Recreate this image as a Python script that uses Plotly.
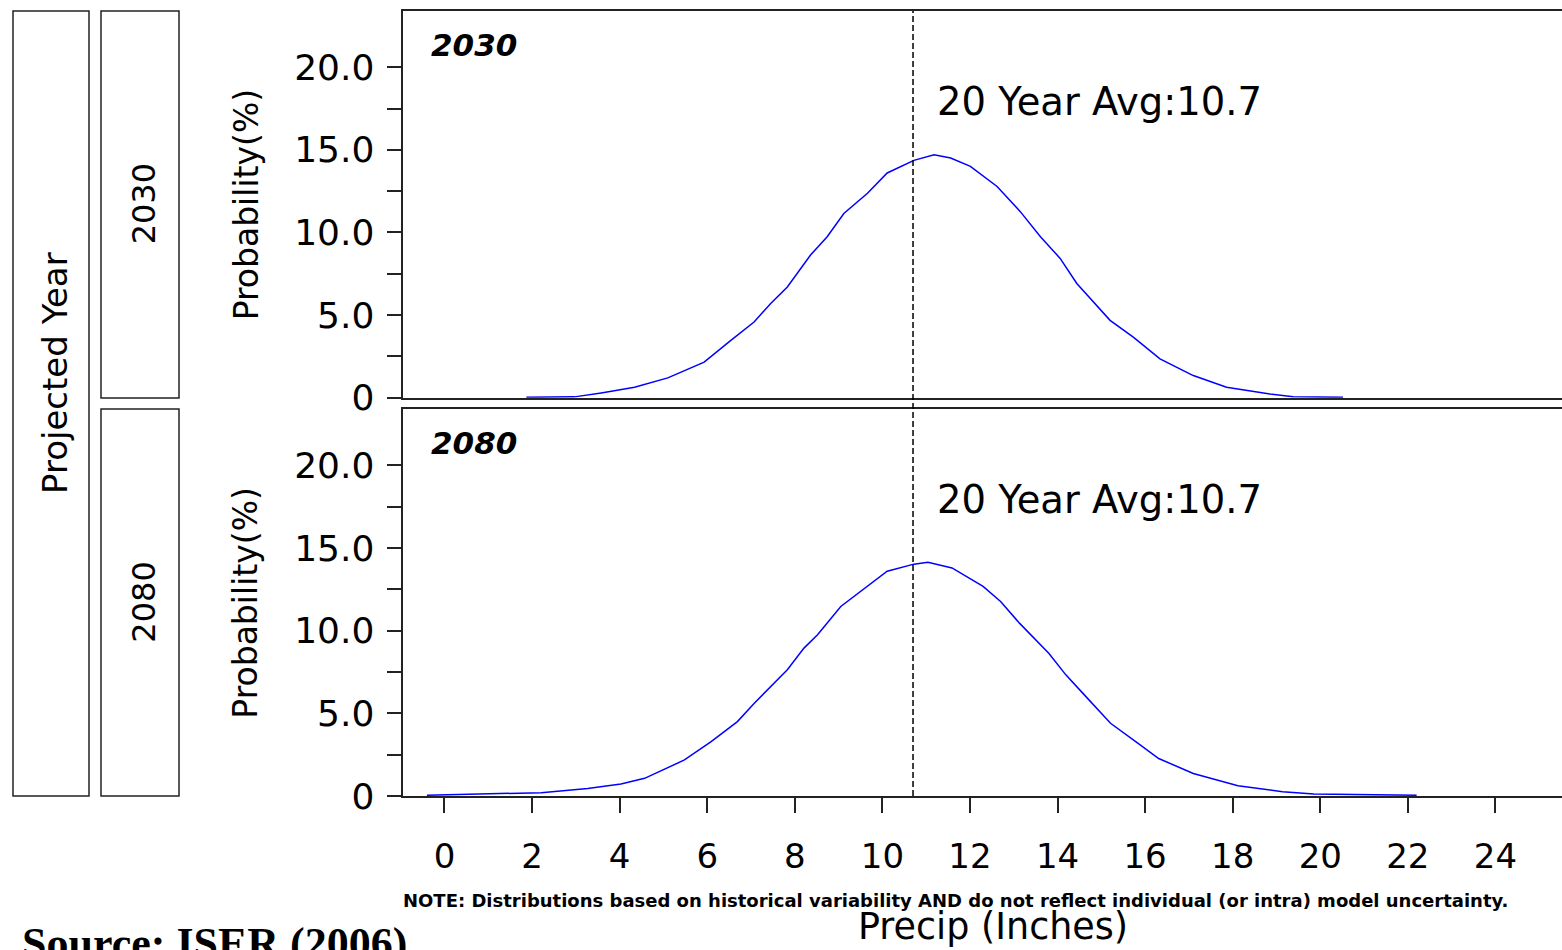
import plotly.graph_objects as go

# ---------------- data ----------------
precip_2030 = [1.87, 2.97, 3.58, 4.34, 5.10, 5.93, 6.54, 7.07, 7.45, 7.83, 8.36, 8.74, 9.12,
               9.66, 10.11, 10.72, 11.18, 11.56, 12.01, 12.62, 13.15, 13.61, 14.06, 14.44,
               15.20, 15.73, 16.34, 17.10, 17.86, 18.85, 19.38, 20.52]
prob_2030 = [0.02, 0.05, 0.29, 0.63, 1.2, 2.15, 3.47, 4.58, 5.7, 6.7, 8.63, 9.74, 11.15,
             12.37, 13.6, 14.36, 14.7, 14.5, 14.0, 12.78, 11.26, 9.74, 8.43, 6.91,
             4.68, 3.67, 2.35, 1.34, 0.63, 0.22, 0.06, 0.02]

precip_2080 = [-0.4, 2.21, 3.27, 4.03, 4.57, 5.48, 6.09, 6.69, 7.07, 7.45, 7.83, 8.21, 8.52,
               9.05, 9.50, 10.11, 10.72, 11.04, 11.59, 12.30, 12.70, 13.13, 13.80, 14.19,
               14.58, 15.21, 15.84, 16.31, 17.10, 18.12, 19.14, 19.85, 22.2]
prob_2080 = [0.05, 0.2, 0.45, 0.72, 1.07, 2.18, 3.29, 4.5, 5.6, 6.62, 7.64, 8.95, 9.76,
             11.47, 12.38, 13.6, 14.03, 14.14, 13.8, 12.68, 11.77, 10.46, 8.64, 7.33,
             6.21, 4.4, 3.18, 2.27, 1.36, 0.62, 0.26, 0.12, 0.05]

years = ["2030", "2080"]
avg_20yr = [10.7, 10.7]

x_tickvals = [0, 2, 4, 6, 8, 10, 12, 14, 16, 18, 20, 22, 24]
x_ticktext = ["0", "2", "4", "6", "8", "10", "12", "14", "16", "18", "20", "22", "24"]
y_tickvals = [0, 2.5, 5, 7.5, 10, 12.5, 15, 17.5, 20]
y_ticktext = ["0", "", "5.0", "", "10.0", "", "15.0", "", "20.0"]

x_title = "Precip (Inches)"
y_title = "Probability(%)"
strip_title = "Projected Year"
note_text = ("NOTE: Distributions based on historical variability AND do not reflect "
             "individual (or intra) model uncertainty.")
source_text = "Source: ISER (2006)"

# ---------------- layout helpers ----------------
W, H = 1562, 950
def px(x):
    return x / W
def py(y):
    return 1 - y / H

FONT = "DejaVu Sans"
LINE = "#222222"
LW = 1.5

x_left, x_right = 403.3, 1562
p1_top, p1_bot = 11, 397.7
p2_top, p2_bot = 409.3, 796
x_range = [-0.94, 25.52]
y_range = [0, 23.4]

fig = go.Figure()

fig.add_trace(go.Scatter(x=precip_2030, y=prob_2030, mode="lines",
                         line=dict(color="#0000ff", width=1.5),
                         xaxis="x", yaxis="y", showlegend=False))
fig.add_trace(go.Scatter(x=precip_2080, y=prob_2080, mode="lines",
                         line=dict(color="#0000ff", width=1.5),
                         xaxis="x2", yaxis="y2", showlegend=False))

common_x = dict(domain=[px(x_left), 1], range=x_range, showgrid=False, zeroline=False,
                showline=True, linecolor=LINE, linewidth=LW, mirror=True, fixedrange=True,
                automargin=False)
common_y = dict(range=y_range, showgrid=False, zeroline=False, showline=True,
                linecolor=LINE, linewidth=LW, mirror=False, ticks="outside", ticklen=15,
                tickwidth=LW, tickcolor=LINE, tickvals=y_tickvals, ticktext=y_ticktext,
                tickfont=dict(family=FONT, size=36, color="black"), ticklabelstandoff=5,
                automargin=False, fixedrange=True)

fig.update_layout(
    width=W, height=H, autosize=False,
    margin=dict(l=0, r=0, t=0, b=0),
    template="none",
    paper_bgcolor="white", plot_bgcolor="white",
    font=dict(family=FONT, color="black"),
    showlegend=False,
    xaxis=dict(**common_x, anchor="y", ticks="", showticklabels=False),
    yaxis=dict(**common_y, anchor="x", domain=[py(p1_bot), py(p1_top)]),
    xaxis2=dict(**common_x, anchor="y2", ticks="outside", ticklen=15, tickwidth=LW,
                tickcolor=LINE, tickvals=x_tickvals, ticktext=x_ticktext,
                tickfont=dict(family=FONT, size=34, color="black"), ticklabelstandoff=14),
    yaxis2=dict(**common_y, anchor="x2", domain=[py(p2_bot), py(p2_top)]),
)

shapes = []
# left strip boxes
shapes.append(dict(type="rect", xref="paper", yref="paper", x0=px(13), x1=px(89),
                   y0=py(796), y1=py(11), line=dict(color=LINE, width=LW)))
shapes.append(dict(type="rect", xref="paper", yref="paper", x0=px(101), x1=px(179),
                   y0=py(398), y1=py(11), line=dict(color=LINE, width=LW)))
shapes.append(dict(type="rect", xref="paper", yref="paper", x0=px(101), x1=px(179),
                   y0=py(796), y1=py(409), line=dict(color=LINE, width=LW)))
# 20-year average dashed line across both panels
shapes.append(dict(type="line", xref="x2", yref="paper", x0=avg_20yr[0], x1=avg_20yr[0],
                   y0=py(p2_bot), y1=py(p1_top),
                   line=dict(color="black", width=1.5, dash="6px,3px")))
fig.update_layout(shapes=shapes)

ann = []
# Projected Year strip
ann.append(dict(text=strip_title, xref="paper", yref="paper", x=px(55), y=py(373),
                textangle=-90, showarrow=False, xanchor="center", yanchor="middle",
                font=dict(family=FONT, size=34)))
panel_tops = [p1_top, p2_top]
panel_bots = [p1_bot, p2_bot]
for i, yr in enumerate(years):
    mid = (panel_tops[i] + panel_bots[i]) / 2
    # year strip
    ann.append(dict(text=yr, xref="paper", yref="paper", x=px(144), y=py(mid),
                    textangle=-90, showarrow=False, xanchor="center", yanchor="middle",
                    font=dict(family=FONT, size=32)))
    # y axis title
    ann.append(dict(text=y_title, xref="paper", yref="paper", x=px(246), y=py(mid),
                    textangle=-90, showarrow=False, xanchor="center", yanchor="middle",
                    font=dict(family=FONT, size=33)))
    # panel label
    ann.append(dict(text="<b><i>" + yr + "</i></b>", xref="paper", yref="paper",
                    x=px(429), y=py(panel_tops[i] + 34), showarrow=False,
                    xanchor="left", yanchor="middle", font=dict(family=FONT, size=31)))
    # average text
    ann.append(dict(text="20 Year Avg:" + str(avg_20yr[i]), xref="paper", yref="paper",
                    x=px(935), y=py(panel_tops[i] + 90), showarrow=False,
                    xanchor="left", yanchor="middle", font=dict(family=FONT, size=38.5)))

ann.append(dict(text="<b>" + note_text + "</b>", xref="paper", yref="paper",
                x=px(955), y=py(900), showarrow=False, xanchor="center", yanchor="middle",
                font=dict(family=FONT, size=18)))
ann.append(dict(text=x_title, xref="paper", yref="paper", x=px(993), y=py(926),
                showarrow=False, xanchor="center", yanchor="middle",
                font=dict(family=FONT, size=36.5)))
ann.append(dict(text="<b>" + source_text + "</b>", xref="paper", yref="paper",
                x=px(20), y=py(917), showarrow=False, xanchor="left", yanchor="top",
                font=dict(family="Liberation Serif", size=44)))
fig.update_layout(annotations=ann)

fig.write_html("out.html", config={"displayModeBar": False})
